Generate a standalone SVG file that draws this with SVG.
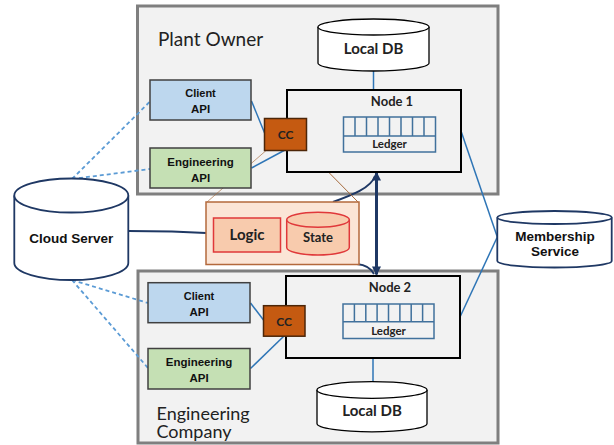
<svg xmlns="http://www.w3.org/2000/svg" width="614" height="445" viewBox="0 0 614 445">
  <defs>
    <style>
      .org { fill: #f2f2f2; stroke: #7f7f7f; stroke-width: 3; }
      .node { fill: #f2f2f2; stroke: #000; stroke-width: 2; }
      .db { fill: #fff; stroke: #000; stroke-width: 1.3; }
      .dbn { fill: #fff; stroke: #1f3864; stroke-width: 1.8; }
      .client { fill: #bdd7ee; stroke: #404040; stroke-width: 1.5; }
      .eng { fill: #c5e0b4; stroke: #404040; stroke-width: 1.5; }
      .cc { fill: #c55a11; stroke: #4d2608; stroke-width: 1.5; }
      .ledger { fill: none; stroke: #41719c; stroke-width: 1.5; }
      .link { fill: none; stroke: #2e75b6; stroke-width: 1.5; }
      .dash { fill: none; stroke: #5b9bd5; stroke-width: 1.8; stroke-dasharray: 4 3; }
      .navy { fill: none; stroke: #1f3864; stroke-width: 2; }
      .sync { fill: none; stroke: #1f3864; stroke-width: 3; }
      .brown { fill: none; stroke: #a56a3c; stroke-width: 1; }
      .cal { font-family: Lato, "Open Sans", "Liberation Sans", sans-serif; fill: #222; }
      .ari { font-family: "Liberation Sans", Arial, sans-serif; font-weight: bold; fill: #111; }
      .b { font-weight: bold; }
      .mid { text-anchor: middle; }
    </style>
    <marker id="head" viewBox="0 0 10 10" refX="9" refY="5" markerWidth="3.2" markerHeight="3" orient="auto-start-reverse">
      <path d="M0,0 L10,5 L0,10 Z" fill="#1f3864"/>
    </marker>
  </defs>

  <!-- organisation frames -->
  <g id="plant-owner">
    <rect class="org" x="137.5" y="6" width="360.5" height="188"/>
    <text class="cal" x="158" y="46" font-size="19">Plant Owner</text>
  </g>
  <g id="engineering-company">
    <rect class="org" x="138" y="271" width="360" height="172"/>
    <text class="cal" x="156.5" y="419.5" font-size="18">Engineering</text>
    <text class="cal" x="156.5" y="437.5" font-size="18">Company</text>
  </g>

  <!-- connectors -->
  <g id="connectors">
    <path class="link" d="M373.5,71 V90"/>
    <path class="link" d="M251.5,101 L265,134"/>
    <path class="link" d="M251.5,168 L285,150"/>
    <path class="link" d="M306,135 H344"/>
    <path class="link" d="M461,131 L497.3,237"/>
    <path class="link" d="M460,317 L497.3,237"/>
    <path class="link" d="M250.5,303 L263.5,320"/>
    <path class="link" d="M250.5,368.5 L284,336"/>
    <path class="link" d="M305,321.5 H343"/>
    <path class="link" d="M373,358 V382"/>
    <path class="dash" d="M72,179 L150,101.5"/>
    <path class="dash" d="M72,179 L150,169"/>
    <path class="dash" d="M72,280 L148,303"/>
    <path class="dash" d="M72,280 L148,368"/>
    <path class="navy" d="M128.3,231 L172,231.5 L206,233"/>
    <path class="navy" d="M333,202 C352,195 371,188 375,176"/>
    <path class="navy" d="M357,264 C366,265 371,268 374,274"/>
    <path class="sync" d="M376.5,172.5 V274.5" marker-start="url(#head)" marker-end="url(#head)"/>
    <path class="brown" stroke-opacity="0.65" d="M266.7,150 L207,202"/>
    <path class="brown" d="M306.7,150 L358,202"/>
  </g>

  <g id="local-db-1">
    <path class="db" d="M318,27 V63 A55.5,8 0 0 0 429,63 V27"/>
    <ellipse class="db" cx="373.5" cy="27" rx="55.5" ry="8"/>
    <text class="cal b mid" x="373.5" y="54" font-size="15">Local DB</text>
  </g>

  <g id="node-1">
    <rect class="node" x="287" y="90" width="174" height="82"/>
    <text class="cal b mid" x="392" y="105.5" font-size="13">Node 1</text>
  </g>
  <g id="ledger-1">
    <rect class="ledger" x="343.5" y="117" width="92" height="35"/>
    <path class="ledger" d="M343.5,136 H435.5 M355,117 V136 M366.5,117 V136 M378,117 V136 M389.5,117 V136 M401,117 V136 M412.5,117 V136 M424,117 V136"/>
    <text class="cal b mid" x="389.5" y="148" font-size="11.5">Ledger</text>
  </g>
  <g id="cc-1">
    <rect class="cc" x="264.5" y="118.5" width="42" height="32"/>
    <text class="cal b mid" x="285.5" y="139" font-size="12">CC</text>
  </g>
  <g id="client-api-1">
    <rect class="client" x="150" y="80" width="101" height="40"/>
    <text class="ari mid" x="200.5" y="97" font-size="11">Client</text>
    <text class="ari mid" x="200.5" y="113" font-size="11.5">API</text>
  </g>
  <g id="engineering-api-1">
    <rect class="eng" x="150" y="148" width="101" height="40"/>
    <text class="ari mid" x="200.5" y="166" font-size="11.5">Engineering</text>
    <text class="ari mid" x="200.5" y="182" font-size="11.5">API</text>
  </g>

  <g id="cloud-server">
    <path class="dbn" d="M14.3,195.5 V263 A57,17 0 0 0 128.3,263 V195.5"/>
    <ellipse class="dbn" cx="71.3" cy="195.5" rx="57" ry="17"/>
    <text class="ari mid" x="71.3" y="243" font-size="13.5">Cloud Server</text>
  </g>

  <g id="chaincode">
    <rect x="206" y="202" width="153" height="62.5" fill="#fbe5d6" stroke="#b4693c" stroke-width="1.5"/>
    <g id="logic">
      <rect x="213.5" y="218" width="67" height="34" fill="#f8cbad" stroke="#e0383a" stroke-width="1.5"/>
      <text class="cal b mid" x="247" y="240" font-size="15">Logic</text>
    </g>
    <g id="state">
      <path d="M286.7,219.8 V247.5 A31.3,7.5 0 0 0 349.3,247.5 V219.8" fill="#f8cbad" stroke="#e0383a" stroke-width="1.5"/>
      <ellipse cx="318" cy="219.8" rx="31.3" ry="7.5" fill="#f8cbad" stroke="#e0383a" stroke-width="1.5"/>
      <text class="cal b mid" x="318" y="242" font-size="13">State</text>
    </g>
  </g>

  <g id="membership-service">
    <path class="dbn" d="M497.3,217.5 V261 A57.2,6.5 0 0 0 611.7,261 V217.5"/>
    <ellipse class="dbn" cx="554.5" cy="217.5" rx="57.2" ry="6.5"/>
    <text class="ari mid" x="555" y="241" font-size="13.5">Membership</text>
    <text class="ari mid" x="555" y="256" font-size="13.5">Service</text>
  </g>

  <g id="node-2">
    <rect class="node" x="286" y="276" width="174" height="82"/>
    <text class="cal b mid" x="390" y="292" font-size="13">Node 2</text>
  </g>
  <g id="ledger-2">
    <rect class="ledger" x="343" y="304" width="91" height="34.5"/>
    <path class="ledger" d="M343,321.7 H434 M354.4,304 V321.7 M365.8,304 V321.7 M377.1,304 V321.7 M388.5,304 V321.7 M399.9,304 V321.7 M411.2,304 V321.7 M422.6,304 V321.7"/>
    <text class="cal b mid" x="388.5" y="334.5" font-size="11.5">Ledger</text>
  </g>
  <g id="cc-2">
    <rect class="cc" x="263.5" y="305.7" width="41.5" height="30.5"/>
    <text class="cal b mid" x="284.2" y="325.5" font-size="12">CC</text>
  </g>
  <g id="client-api-2">
    <rect class="client" x="148" y="282.7" width="102" height="40"/>
    <text class="ari mid" x="199" y="300" font-size="11">Client</text>
    <text class="ari mid" x="199" y="316" font-size="11.5">API</text>
  </g>
  <g id="engineering-api-2">
    <rect class="eng" x="148" y="348.5" width="102" height="40.5"/>
    <text class="ari mid" x="199" y="366" font-size="11.5">Engineering</text>
    <text class="ari mid" x="199" y="382" font-size="11.5">API</text>
  </g>
  <g id="local-db-2">
    <path class="db" d="M317,390 V423.5 A55,8.3 0 0 0 427,423.5 V390"/>
    <ellipse class="db" cx="372" cy="390" rx="55" ry="8.3"/>
    <text class="cal b mid" x="372" y="416" font-size="15">Local DB</text>
  </g>
</svg>
